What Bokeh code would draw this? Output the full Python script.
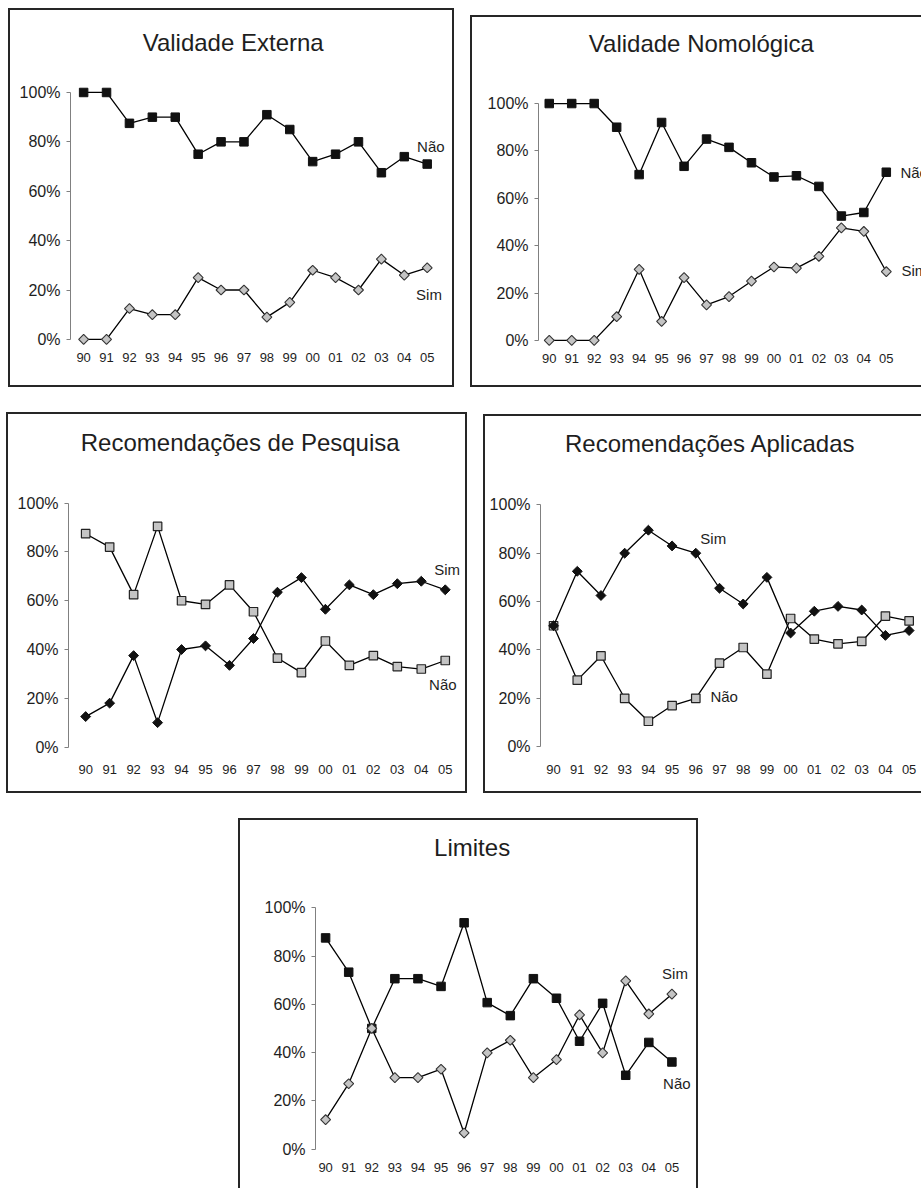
import numpy as np
from bokeh.plotting import figure
from bokeh.models import Label, FixedTicker, Spacer, ColumnDataSource
from bokeh.layouts import row, column
from bokeh.embed import file_html
from bokeh.resources import INLINE

# ---------------- data ----------------
years = ["90", "91", "92", "93", "94", "95", "96", "97", "98", "99",
         "00", "01", "02", "03", "04", "05"]

ext_nao = [100, 100, 87.5, 90, 90, 75, 80, 80, 91, 85, 72, 75, 80, 67.5, 74, 71]
ext_sim = [0, 0, 12.5, 10, 10, 25, 20, 20, 9, 15, 28, 25, 20, 32.5, 26, 29]

nom_nao = [100, 100, 100, 90, 70, 92, 73.5, 85, 81.5, 75, 69, 69.5, 65, 52.5, 54, 71]
nom_sim = [0, 0, 0, 10, 30, 8, 26.5, 15, 18.5, 25, 31, 30.5, 35.5, 47.5, 46, 29]

pes_nao = [87.5, 82, 62.5, 90.5, 60, 58.5, 66.5, 55.5, 36.5, 30.5, 43.5, 33.5, 37.5, 33, 32, 35.5]
pes_sim = [12.5, 18, 37.5, 10, 40, 41.5, 33.5, 44.5, 63.5, 69.5, 56.5, 66.5, 62.5, 67, 68, 64.5]

apl_sim = [50, 72.5, 62.5, 80, 89.5, 83, 80, 65.5, 59, 70, 47, 56, 58, 56.5, 46, 48]
apl_nao = [50, 27.5, 37.5, 20, 10.5, 17, 20, 34.5, 41, 30, 53, 44.5, 42.5, 43.5, 54, 52]

lim_nao = [87.5, 73.3, 50, 70.6, 70.6, 67.4, 93.75, 60.7, 55.3, 70.6, 62.5, 44.7, 60.4, 30.6, 44.2, 36.1]
lim_sim = [12.2, 27.1, 50, 29.6, 29.6, 33.1, 6.7, 39.9, 45.1, 29.6, 37.1, 55.6, 39.9, 69.7, 56, 64.2]

y_ticks = [0, 20, 40, 60, 80, 100]
y_tick_labels = ["0%", "20%", "40%", "60%", "80%", "100%"]

FONT = "Liberation Sans"
INK = "#1e1e1e"
GRAY_FILL = "#c4c4c4"
BW = 2  # border width in px


def make_panel(title, series, g, border_sides):
    bx0, by0, bx1, by1 = g["box"]
    # drawable canvas inside the CSS border
    cx0 = bx0 + (BW if "left" in border_sides else 0)
    cy0 = by0 + (BW if "top" in border_sides else 0)
    cx1 = bx1 - (BW if "right" in border_sides else 0)
    cy1 = by1 - (BW if "bottom" in border_sides else 0)
    ppx = (g["x05"] - g["x90"]) / 15.0
    ppy = (g["y0"] - g["y100"]) / 100.0

    def dx(px):
        return (px - g["x90"]) / ppx

    def dy(py):
        return (g["y0"] - py) / ppy

    p = figure(width=bx1 - bx0, height=by1 - by0,
               x_range=(dx(g["axis_x"]), dx(cx1)),
               y_range=(dy(g["frame_bottom"]), dy(cy0)),
               output_backend="svg", toolbar_location=None,
               min_border_left=g["axis_x"] - cx0, min_border_right=0,
               min_border_top=0, min_border_bottom=cy1 - g["frame_bottom"],
               outline_line_color=None, background_fill_color="white",
               border_fill_color="white")
    p.xgrid.visible = False
    p.ygrid.visible = False

    # y axis
    p.yaxis.ticker = FixedTicker(ticks=y_ticks)
    p.yaxis.major_label_overrides = dict(zip(y_ticks, y_tick_labels))
    p.yaxis.bounds = (0, 100)
    p.yaxis.axis_line_color = "#808080"
    p.yaxis.axis_line_width = 1
    p.yaxis.major_tick_line_color = "#808080"
    p.yaxis.major_tick_out = 4
    p.yaxis.major_tick_in = 0
    p.yaxis.minor_tick_line_color = None
    p.yaxis.major_label_standoff = 6
    p.yaxis.major_label_text_font = FONT
    p.yaxis.major_label_text_font_size = "16px"
    p.yaxis.major_label_text_color = INK

    # x axis
    idx = list(range(len(years)))
    p.xaxis.ticker = FixedTicker(ticks=idx)
    p.xaxis.major_label_overrides = dict(zip(idx, years))
    p.xaxis.axis_line_color = None
    p.xaxis.major_tick_line_color = None
    p.xaxis.minor_tick_line_color = None
    p.xaxis.major_tick_out = 0
    p.xaxis.major_label_standoff = 4
    p.xaxis.major_label_text_font = FONT
    p.xaxis.major_label_text_font_size = "13px"
    p.xaxis.major_label_text_color = INK

    for vals, style in series:
        src = ColumnDataSource(dict(x=idx, y=vals))
        p.line("x", "y", source=src, line_color="black", line_width=1.3)
        if style == "black_square":
            p.scatter("x", "y", source=src, marker="square", size=8.5,
                      fill_color="#111111", line_color="#111111")
        elif style == "gray_square":
            p.scatter("x", "y", source=src, marker="square", size=8.5,
                      fill_color=GRAY_FILL, line_color="#222222", line_width=1.2)
        elif style == "black_diamond":
            p.scatter("x", "y", source=src, marker="square", angle=np.pi / 4,
                      size=7, fill_color="#111111", line_color="#111111")
        else:
            p.scatter("x", "y", source=src, marker="square", angle=np.pi / 4,
                      size=7, fill_color=GRAY_FILL, line_color="#333333", line_width=1.1)

    tx, ty = g["title_xy"]
    p.add_layout(Label(x=dx(tx), y=dy(ty), text=title, text_font=FONT,
                       text_font_size="24px", text_color=INK,
                       text_align="center", text_baseline="middle"))
    for txt, (lx, ly) in g["labels"]:
        p.add_layout(Label(x=dx(lx), y=dy(ly), text=txt, text_font=FONT,
                           text_font_size="15px", text_color=INK,
                           text_align="left", text_baseline="middle"))

    st = {"box-sizing": "border-box"}
    for side in ["top", "right", "bottom", "left"]:
        st["border-" + side] = ("%dpx solid #262626" % BW if side in border_sides else "none")
    p.styles = st
    return p


# page-pixel geometry of each panel (positions only, no data)
g1 = dict(box=(8, 8, 454, 387), axis_x=70, y100=91, y0=335, x90=83, x05=423,
          frame_bottom=344, title_xy=(231, 42),
          labels=[("Não", (413, 144)), ("Sim", (412, 291))])
g2 = dict(box=(470, 15, 921, 387), axis_x=538, y100=102, y0=336, x90=548.7, x05=884,
          frame_bottom=345, title_xy=(700, 43),
          labels=[("Não", (898, 170)), ("Sim", (899, 267))])
g3 = dict(box=(6, 412, 467, 793), axis_x=68, y100=501.7, y0=742.7, x90=85, x05=441,
          frame_bottom=756, title_xy=(238, 442),
          labels=[("Sim", (430, 567)), ("Não", (425, 681))])
g4 = dict(box=(483, 414, 921, 793), axis_x=540, y100=503.3, y0=742.3, x90=553, x05=906.7,
          frame_bottom=756, title_xy=(709, 443),
          labels=[("Sim", (699, 537)), ("Não", (709, 693))])
g5 = dict(box=(238, 818, 698, 1188), axis_x=315, y100=906.7, y0=1146.7, x90=325, x05=667.7,
          frame_bottom=1156, title_xy=(470, 847),
          labels=[("Sim", (658, 972)), ("Não", (659, 1081))])

ALL = ["top", "right", "bottom", "left"]
p1 = make_panel("Validade Externa",
                [(ext_nao, "black_square"), (ext_sim, "gray_diamond")], g1, ALL)
p2 = make_panel("Validade Nomológica",
                [(nom_nao, "black_square"), (nom_sim, "gray_diamond")], g2,
                ["top", "bottom", "left"])
p3 = make_panel("Recomendações de Pesquisa",
                [(pes_nao, "gray_square"), (pes_sim, "black_diamond")], g3, ALL)
p4 = make_panel("Recomendações Aplicadas",
                [(apl_nao, "gray_square"), (apl_sim, "black_diamond")], g4,
                ["top", "bottom", "left"])
p5 = make_panel("Limites",
                [(lim_nao, "black_square"), (lim_sim, "gray_diamond")], g5,
                ["top", "right", "left"])


def gap(w=1, h=1):
    return Spacer(width=w, height=h)


row1 = row(gap(w=g1["box"][0]), p1, gap(w=g2["box"][0] - g1["box"][2]),
           column(gap(h=g2["box"][1] - g1["box"][1]), p2))
row2 = row(gap(w=g3["box"][0]), p3, gap(w=g4["box"][0] - g3["box"][2]),
           column(gap(h=g4["box"][1] - g3["box"][1]), p4))
row3 = row(gap(w=g5["box"][0]), p5)
page = column(gap(h=g1["box"][1]), row1,
              gap(h=g3["box"][1] - g1["box"][3]), row2,
              gap(h=g5["box"][1] - g3["box"][3]), row3)

open("out.html", "w").write(file_html(page, INLINE))
